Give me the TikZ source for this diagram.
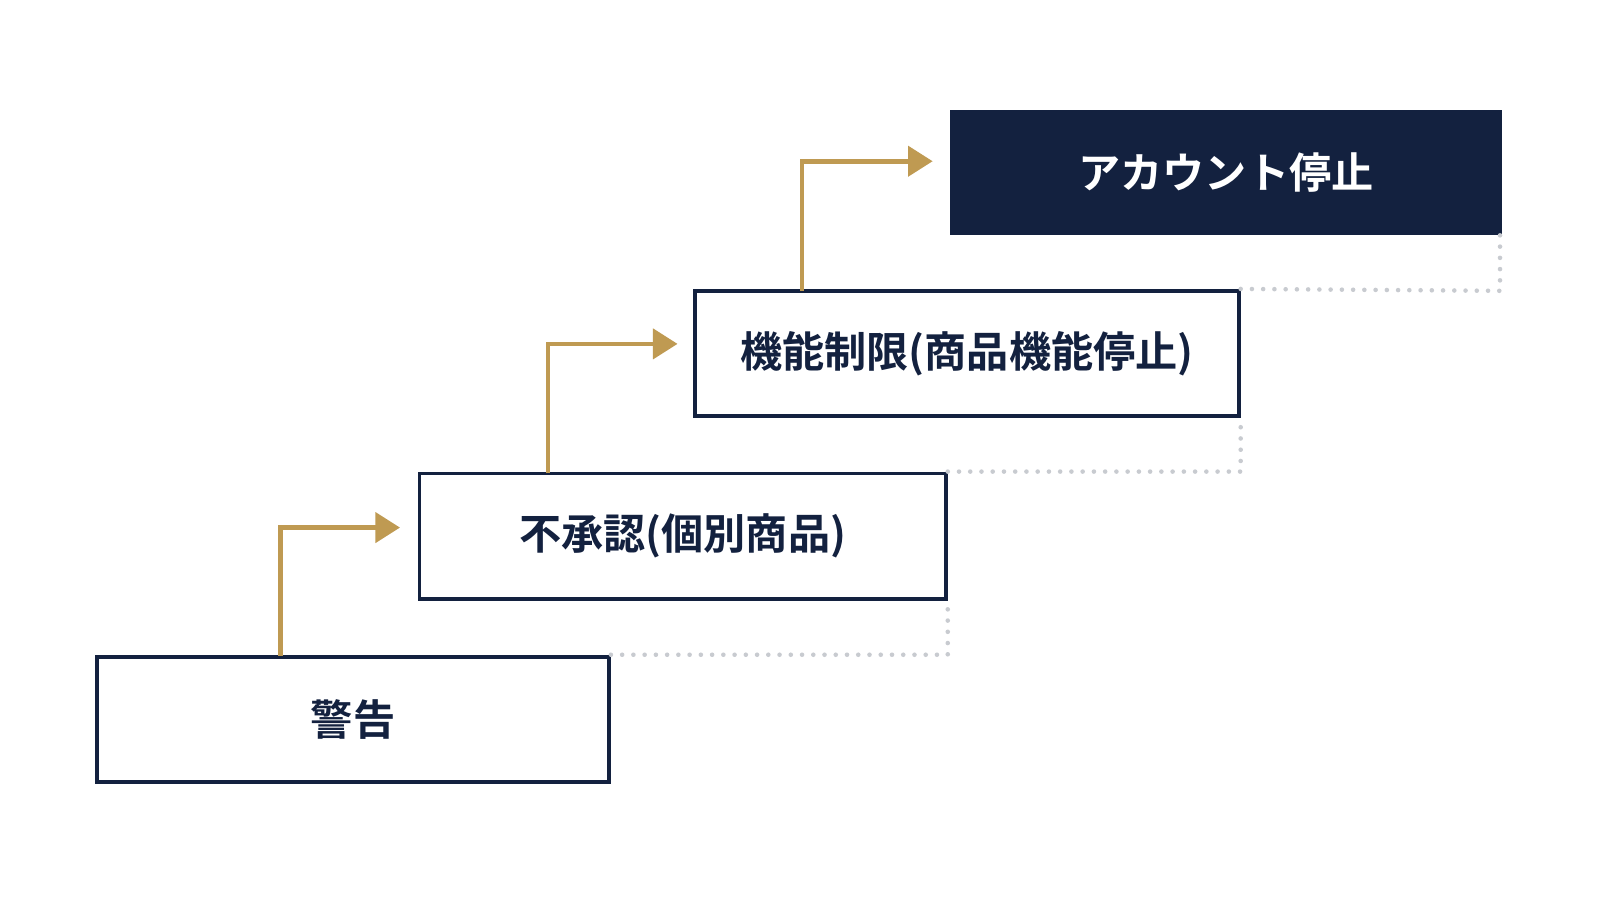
\documentclass[tikz,border=0pt]{standalone}
\usepackage{fontspec}
\newfontfamily\jp{Noto Sans CJK JP Bold}
\usetikzlibrary{arrows.meta}
\definecolor{navy}{HTML}{13213F}
\definecolor{gold}{HTML}{BF9A52}
\definecolor{dotg}{HTML}{C8CBD0}
\begin{document}
\begin{tikzpicture}[x=0.010204cm,y=-0.010204cm,
  stair/.style={draw=navy,line width=1.1pt,fill=white,minimum height=1.255cm,text=navy,font=\jp\fontsize{12}{14}\selectfont,inner sep=0},
  topbox/.style={fill=navy,minimum height=1.245cm,text=white,font=\jp\fontsize{12}{14}\selectfont,inner sep=0},
  dots/.style={draw=dotg,line width=1.3pt,dash pattern=on 0pt off 3.2pt,line cap=round},
  up/.style={draw=gold,line width=1.3pt,-{Triangle[length=7pt,width=8.5pt]}}]
\useasboundingbox (0,0) rectangle (1568,882);
\fill[white] (0,0) rectangle (1568,882);
\node[stair,minimum width=5.12cm] (b1) at (346,705) {警告};
\node[stair,minimum width=5.265cm] (b2) at (669,525.5) {不承認(個別商品)};
\node[stair,minimum width=5.44cm] (b3) at (947.5,346.5) {機能制限(商品機能停止)};
\node[topbox,minimum width=5.52cm] (b4) at (1201.5,169) {アカウント停止};
\draw[dots] (b1.north east) -- (b2.south east |- b1.north) -- (b2.south east);
\draw[dots] (b2.north east) -- (b3.south east |- b2.north) -- (b3.south east);
\draw[dots] (b3.north east) -- (1470,285) -- (1470,230);
\coordinate (a1) at (275,643); \coordinate (c1) at (275,517); \coordinate (e1) at (392,517);
\coordinate (a2) at (537,464); \coordinate (c2) at (537,337); \coordinate (e2) at (664,337);
\coordinate (a3) at (786,285); \coordinate (c3) at (786,158); \coordinate (e3) at (914,158);
\draw[up] (a1) -- (c1) -- (e1);
\draw[up] (a2) -- (c2) -- (e2);
\draw[up] (a3) -- (c3) -- (e3);
\end{tikzpicture}
\end{document}
